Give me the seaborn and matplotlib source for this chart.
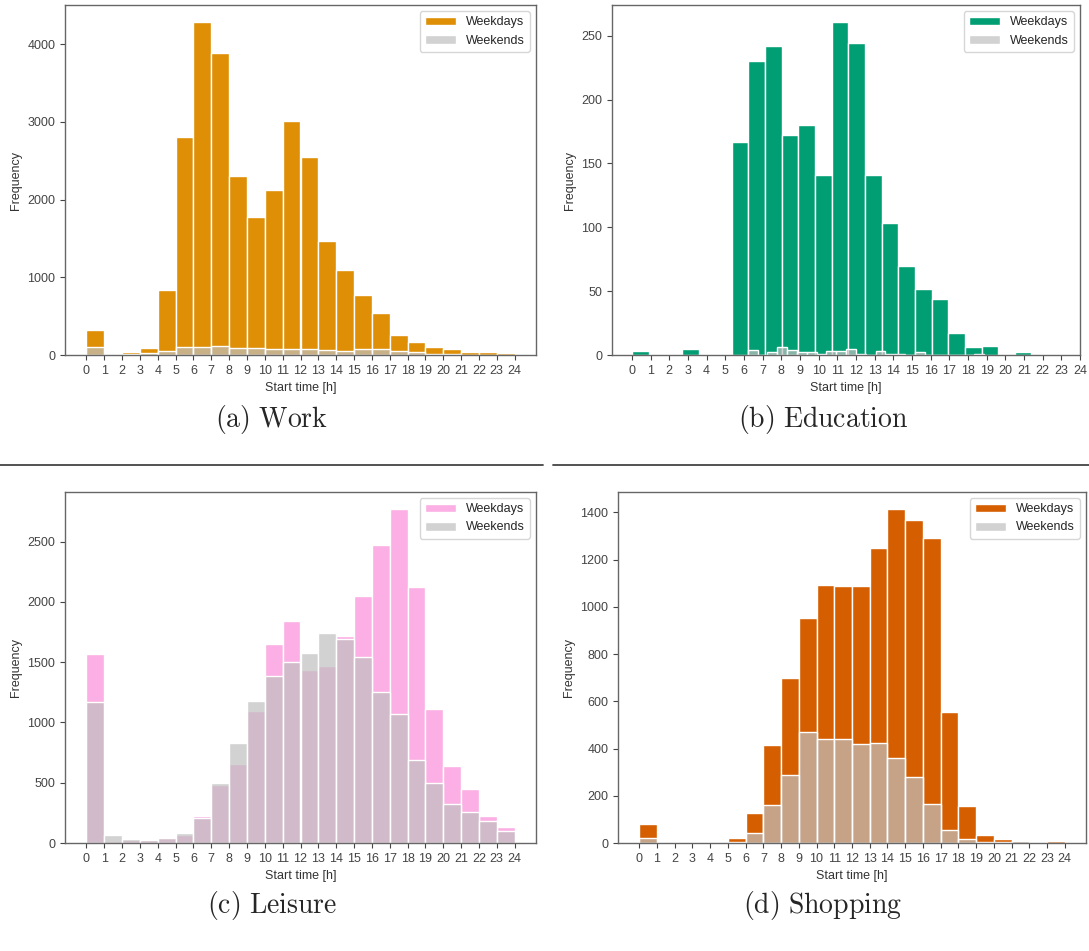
import numpy as np
import pandas as pd
import matplotlib
matplotlib.use("Agg")
import matplotlib.pyplot as plt
from matplotlib.lines import Line2D
import seaborn as sns

# ---------------- data (counts per bin) ----------------
hour_ticks = list(range(25))
hour_edges = list(range(25))  # integer one-hour bins

work_weekdays = [320, 15, 35, 95, 840, 2810, 4290, 3890, 2305, 1770, 2120, 3015,
                 2550, 1462, 1097, 778, 538, 258, 163, 99, 73, 35, 35, 26]
work_weekends = [108, 5, 8, 20, 47, 108, 108, 120, 95, 95, 77, 77,
                 77, 69, 56, 77, 77, 47, 34, 15, 10, 5, 5, 5]

# education bins follow each series' own data range (24 bins each)
edu_weekday_range = (0.0, 21.4)
edu_weekend_range = (6.2, 18.85)
edu_weekdays = [3, 0, 0, 5, 0, 0, 167, 230, 242, 172, 180, 141,
                261, 244, 141, 103, 70, 52, 44, 17, 6, 7, 0, 2]
edu_weekends = [4, 0, 2, 6, 4, 2, 2, 1, 3, 3, 5, 1,
                0, 3, 1, 1, 0, 2, 0, 0, 0, 0, 0, 1]

leisure_weekdays = [1565, 20, 25, 28, 45, 65, 222, 478, 657, 1091, 1651, 1840,
                    1434, 1470, 1715, 2046, 2472, 2773, 2124, 1108, 640, 450, 228, 134]
leisure_weekends = [1172, 65, 35, 25, 40, 80, 209, 496, 830, 1178, 1386, 1498,
                    1576, 1740, 1693, 1545, 1253, 1069, 690, 496, 320, 256, 181, 97]

shop_weekdays = [80, 0, 0, 0, 0, 23, 128, 415, 700, 951, 1093, 1087,
                 1087, 1249, 1416, 1370, 1293, 556, 156, 36, 16, 9, 0, 9]
shop_weekends = [23, 0, 0, 0, 0, 5, 44, 161, 286, 470, 442, 439,
                 419, 422, 362, 279, 165, 53, 18, 5, 3, 7, 0, 2]

series_labels = ["Weekdays", "Weekends"]
captions = [r"$\mathrm{(a)\ Work}$", r"$\mathrm{(b)\ Education}$",
            r"$\mathrm{(c)\ Leisure}$", r"$\mathrm{(d)\ Shopping}$"]

# ---------------- style ----------------
sns.set_style("ticks")
plt.rcParams["font.family"] = ["Liberation Sans", "DejaVu Sans"]
plt.rcParams["mathtext.fontset"] = "cm"
plt.rcParams["axes.edgecolor"] = "#666666"
plt.rcParams["xtick.color"] = "#444444"
plt.rcParams["ytick.color"] = "#444444"
plt.rcParams["axes.labelcolor"] = "#333333"

pal = sns.color_palette("colorblind")
weekday_colors = [pal[1], pal[2], pal[6], pal[3]]
weekend_color = "#C0C0C0"

W, H = 1089, 951
fig = plt.figure(figsize=(W / 100, H / 100), dpi=100)

def frac_box(left, right, top, bottom):
    return [left / W, 1 - bottom / H, (right - left) / W, (bottom - top) / H]

boxes = [frac_box(65, 536, 5, 355), frac_box(612, 1080, 5, 355),
         frac_box(65, 536, 492, 843), frac_box(618, 1086, 492, 843)]

def edges_from(rng, n):
    return [float(v) for v in np.linspace(rng[0], rng[1], n + 1)]

int_edges = [float(v) for v in hour_edges]
panels = [
    (work_weekdays, int_edges, work_weekends, int_edges),
    (edu_weekdays, edges_from(edu_weekday_range, len(edu_weekdays)),
     edu_weekends, edges_from(edu_weekend_range, len(edu_weekends))),
    (leisure_weekdays, int_edges, leisure_weekends, int_edges),
    (shop_weekdays, int_edges, shop_weekends, int_edges),
]

def hist_frame(counts, edges):
    centers = [(edges[k] + edges[k + 1]) / 2 for k in range(len(counts))]
    return pd.DataFrame({"start": centers, "count": counts})

for i, (wd, wd_edges, we, we_edges) in enumerate(panels):
    ax = fig.add_axes(boxes[i])
    sns.histplot(data=hist_frame(wd, wd_edges), x="start", weights="count",
                 bins=wd_edges, color=weekday_colors[i], alpha=1.0,
                 edgecolor="white", linewidth=1.0, label=series_labels[0], ax=ax)
    sns.histplot(data=hist_frame(we, we_edges), x="start", weights="count",
                 bins=we_edges, color=weekend_color, alpha=0.7,
                 edgecolor="white", linewidth=1.0, label=series_labels[1], ax=ax)
    ax.set_xticks(hour_ticks)
    ax.set_xticklabels([str(h) for h in hour_ticks])
    ax.tick_params(labelsize=9, length=3.5, width=0.8)
    ax.set_xlabel("Start time [h]", fontsize=9)
    ax.set_ylabel("Frequency", fontsize=9)
    for sp in ax.spines.values():
        sp.set_visible(True)
        sp.set_linewidth(1.0)
    ax.legend(loc="upper right", fontsize=9, frameon=True, handlelength=2.5)

# captions
fig.text(272 / W, 1 - 420 / H, captions[0], ha="center", va="center", fontsize=20)
fig.text(823 / W, 1 - 420 / H, captions[1], ha="center", va="center", fontsize=20)
fig.text(272 / W, 1 - 905 / H, captions[2], ha="center", va="center", fontsize=20)
fig.text(823 / W, 1 - 905 / H, captions[3], ha="center", va="center", fontsize=20)

# separator rules between rows
fig.add_artist(Line2D([0, 543 / W], [1 - 465 / H] * 2, color="#444444", lw=1.3))
fig.add_artist(Line2D([553 / W, 1], [1 - 465 / H] * 2, color="#444444", lw=1.3))

fig.savefig("out.png", dpi=100)
